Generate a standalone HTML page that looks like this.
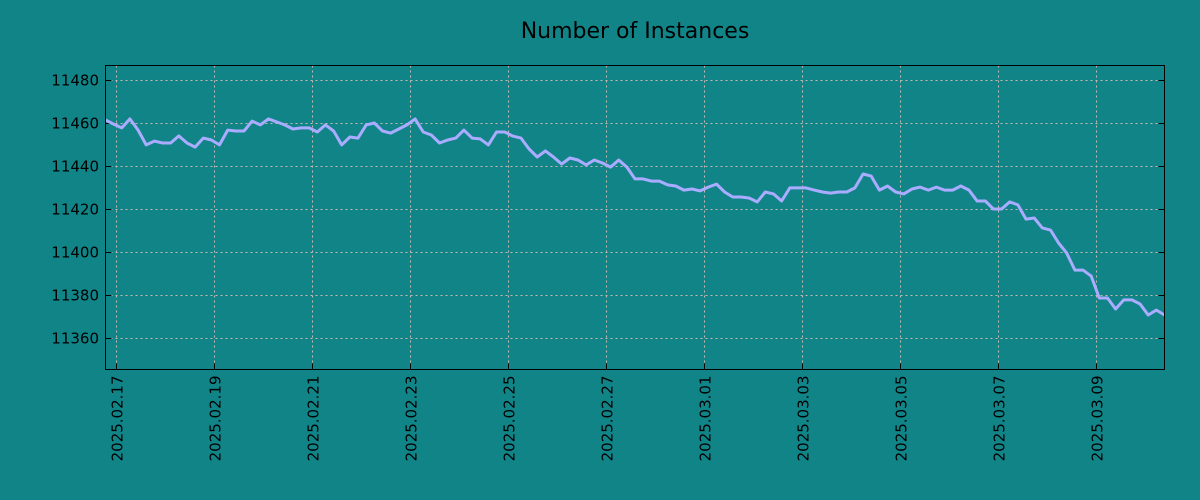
<!DOCTYPE html>
<html><head><meta charset="utf-8">
<style>
body{margin:0;background:#118488;}
svg{display:block;font-family:"DejaVu Sans","Liberation Sans",sans-serif;}
</style></head>
<body>
<svg id="chart" width="1200" height="500" viewBox="0 0 1200 500">
<rect x="0" y="0" width="1200" height="500" fill="#118488"/>
<text x="635" y="38" text-anchor="middle" font-size="22" fill="#000">Number of Instances</text>
<g id="grid"></g>
<g id="axes"></g>
<g id="series"></g>
<rect x="105.5" y="65.5" width="1059" height="304" fill="none" stroke="#000" stroke-width="1"/>
</svg>
<script>
const values = [11461.4,11459.5,11457.7,11461.9,11456.7,11449.8,11451.6,11450.7,11450.7,11454.0,11450.7,11448.8,11453.0,11452.1,11449.8,11456.7,11456.3,11456.3,11460.9,11459.1,11461.9,11460.5,11459.1,11457.2,11457.7,11457.7,11455.8,11459.1,11456.3,11449.8,11453.5,11453.0,11459.1,11460.0,11456.3,11455.3,11457.2,11459.1,11461.9,11455.8,11454.4,11450.7,11452.1,11453.0,11456.7,11453.0,11452.6,11449.8,11455.8,11455.8,11453.9,11453.0,11447.9,11444.2,11447.0,11444.2,11440.9,11443.7,11442.8,11440.5,11442.8,11441.4,11439.5,11442.8,11439.5,11434.0,11434.0,11433.0,11433.0,11431.2,11430.7,11428.8,11429.3,11428.4,11430.2,11431.6,11427.9,11425.6,11425.6,11425.1,11423.3,11427.9,11427.0,11423.7,11429.8,11429.8,11429.8,11428.8,11427.9,11427.4,11427.9,11427.9,11429.8,11436.3,11435.3,11428.8,11430.7,11427.9,11427.0,11429.3,11430.2,11428.8,11430.2,11428.8,11428.8,11430.7,11428.8,11423.7,11423.7,11420.0,11420.0,11423.3,11421.9,11415.3,11415.8,11411.2,11410.2,11404.2,11399.5,11391.6,11391.6,11388.8,11378.6,11378.6,11373.5,11377.7,11377.7,11375.8,11370.7,11373.0,11370.7];
const yTicks = [11360,11380,11400,11420,11440,11460,11480];
const xTickLabels = ["2025.02.17","2025.02.19","2025.02.21","2025.02.23","2025.02.25","2025.02.27","2025.03.01","2025.03.03","2025.03.05","2025.03.07","2025.03.09"];
const xTickDays = [0,2,4,6,8,10,12,14,16,18,20];
const startDay = -0.224, endDay = 21.39;

const L=105.5,R=1164.5,T=65.5,B=369.5;
const NS="http://www.w3.org/2000/svg";
function xScale(d){return L+(d-startDay)/(endDay-startDay)*(R-L);}
function yScale(v){return 80+(11480-v)*43/20;}
function mk(tag,attrs,parent){const e=document.createElementNS(NS,tag);for(const k in attrs)e.setAttribute(k,attrs[k]);parent.appendChild(e);return e;}
const grid=document.getElementById('grid'),axes=document.getElementById('axes'),series=document.getElementById('series');
yTicks.forEach(v=>{
  const y=Math.round(yScale(v))+0.5;
  const g=mk('line',{x1:L,x2:R,y1:y,y2:y,stroke:'#c8b8b0','stroke-width':1,'stroke-dasharray':'2,3'},grid);
  
  
  const t1=mk('line',{x1:L,x2:L+6,y1:y,y2:y,stroke:'#000'},axes);
  
  
  const t2=mk('line',{x1:R-6,x2:R,y1:y,y2:y,stroke:'#000'},axes);
  
  
  const tx=mk('text',{x:99,y:y+5,'text-anchor':'end','font-size':15,fill:'#000'},axes);
  tx.textContent=v;
  
  
});
xTickDays.forEach((d,i)=>{
  const x=Math.round(xScale(d))+0.5;
  const g=mk('line',{x1:x,x2:x,y1:T,y2:B,stroke:'#c8b8b0','stroke-width':1,'stroke-dasharray':'2,3'},grid);
  
  
  const t1=mk('line',{x1:x,x2:x,y1:B-6,y2:B,stroke:'#000'},axes);
  
  
  const tx=mk('text',{x:0,y:0,'text-anchor':'end','font-size':15,fill:'#000',transform:`translate(${x+6},${B+6}) rotate(-90)`},axes);
  tx.textContent=xTickLabels[i];
  
  
});
const step=(endDay-startDay)/(values.length-1);
const pts=values.map((v,i)=>xScale(startDay+i*step).toFixed(1)+','+yScale(v).toFixed(1)).join(' ');
const pl=mk('polyline',{points:pts,fill:'none',stroke:'#a9acff','stroke-width':3,'stroke-linejoin':'round'},series);


</script>
</body></html>
